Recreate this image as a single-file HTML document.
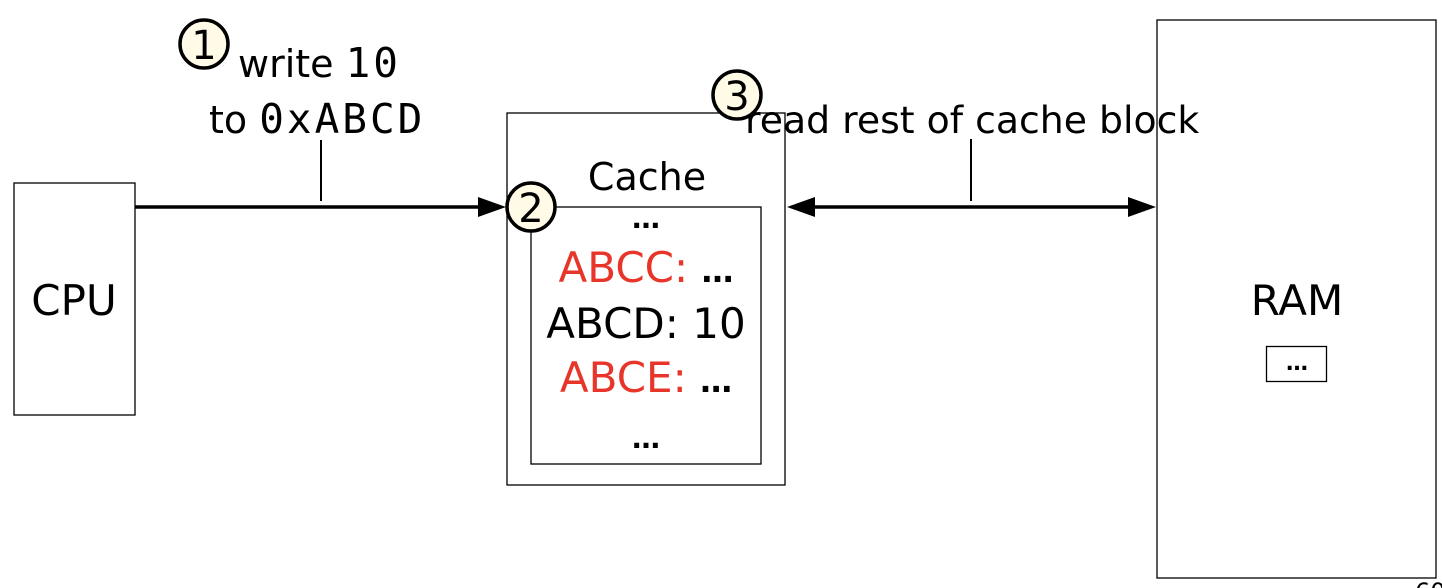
<!DOCTYPE html>
<html><head><meta charset="utf-8"><style>
html,body{margin:0;padding:0;background:#fff;width:1442px;height:588px;overflow:hidden}
svg{display:block}
text{font-family:"DejaVu Sans","Liberation Sans",sans-serif;fill:#000}
.m{font-family:"DejaVu Sans Mono","Liberation Mono",monospace;letter-spacing:3px}
.r{fill:#e8352a}
</style></head><body>
<svg width="1442" height="588" viewBox="0 0 1442 588" xmlns="http://www.w3.org/2000/svg">
<g fill="none" stroke="#000" stroke-width="1.3">
<rect x="14" y="183" width="121" height="232"/>
<rect x="507" y="113" width="278" height="372"/>
<rect x="531" y="207" width="230" height="257"/>
<rect x="1157" y="20" width="279" height="558"/>
<rect x="1266.5" y="346.5" width="60" height="35"/>
</g>
<g stroke="#000" stroke-width="3.5">
<line x1="135" y1="207" x2="480" y2="207"/>
<line x1="815" y1="207" x2="1128" y2="207"/>
</g>
<path d="M478,197 L506,207 L478,217 z"/>
<path d="M1128,197 L1156,207 L1128,217 z"/>
<path d="M815,197 L787,207 L815,217 z"/>
<g stroke="#000" stroke-width="2">
<line x1="321" y1="140" x2="321" y2="201"/>
<line x1="971" y1="139" x2="971" y2="201"/>
</g>
<text x="238" y="77" font-size="38">write <tspan class="m" font-size="41">10</tspan></text>
<text x="209" y="133" font-size="38">to <tspan class="m" font-size="41">0xABCD</tspan></text>
<text x="745" y="133" font-size="37.8">read rest of cache block</text>
<text x="647" y="190" font-size="38" text-anchor="middle">Cache</text>
<text x="646" y="228" font-size="28" font-weight="bold" text-anchor="middle">…</text>
<text x="646" y="282" font-size="42" text-anchor="middle"><tspan class="r">ABCC:</tspan> <tspan font-size="32" font-weight="bold">…</tspan></text>
<text x="646" y="338" font-size="42" text-anchor="middle">ABCD: 10</text>
<text x="646" y="392" font-size="42" text-anchor="middle"><tspan class="r">ABCE:</tspan> <tspan font-size="32" font-weight="bold">…</tspan></text>
<text x="646" y="448" font-size="28" font-weight="bold" text-anchor="middle">…</text>
<text x="74" y="315" font-size="42" text-anchor="middle">CPU</text>
<text x="1297" y="315" font-size="42" text-anchor="middle">RAM</text>
<text x="1297" y="370" font-size="22" font-weight="bold" text-anchor="middle">…</text>
<g fill="#fffbe6" stroke="#000" stroke-width="3.5">
<circle cx="204" cy="44" r="24"/>
<circle cx="531" cy="207" r="24"/>
<circle cx="737" cy="95" r="24"/>
</g>
<text x="204" y="59" font-size="40" text-anchor="middle">1</text>
<text x="531" y="222" font-size="40" text-anchor="middle">2</text>
<text x="737" y="110" font-size="40" text-anchor="middle">3</text>
<text x="1415" y="600" font-size="24">60</text>
</svg>
</body></html>
